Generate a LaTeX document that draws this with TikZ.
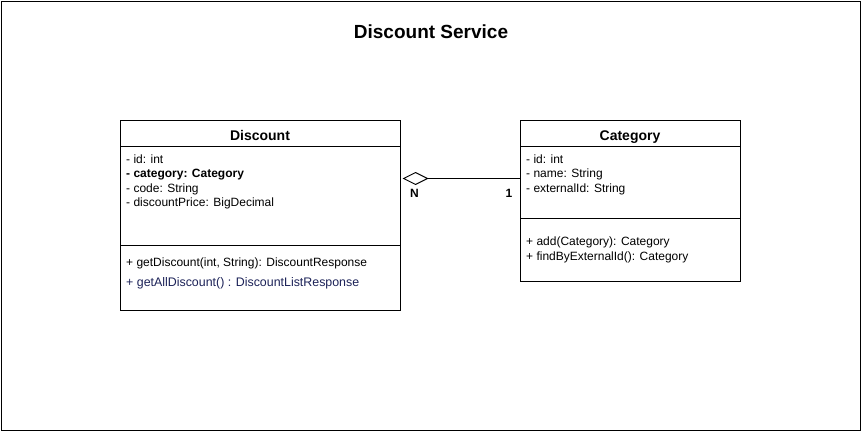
\documentclass[tikz,border=0pt]{standalone}
\usepackage{fontspec}
\setmainfont{Liberation Sans}
\usetikzlibrary{arrows.meta}
\definecolor{methblue}{RGB}{28,34,88}
\begin{document}
\begin{tikzpicture}[x=1pt,y=-1pt,
  classbox/.style={draw=black,line width=1pt,fill=white,inner sep=0pt},
  hdr/.style={font=\fontsize{14}{16}\selectfont\bfseries,anchor=base,inner sep=0pt},
  member/.style={font=\fontsize{12}{14}\selectfont,anchor=base west,inner sep=0pt},
  mult/.style={font=\fontsize{12}{14}\selectfont\bfseries,anchor=base,inner sep=0pt},
  sep/.style={line width=1pt}]
\useasboundingbox (0,0) rectangle (861,431);
\node[draw=black,line width=1pt,minimum width=859pt,minimum height=429pt,anchor=north west,inner sep=0pt] (frame) at (0.5,0.5) {};
\node[font=\fontsize{19}{22}\selectfont\bfseries,anchor=base,inner sep=0pt] (title) at (431,38) {Discount Service};

% Discount class
\node[classbox,minimum width=280pt,minimum height=190pt,anchor=north west] (disc) at (120,120) {};
\draw[sep] (disc.west |- 0,146.5) -- (disc.east |- 0,146.5);
\draw[sep] (disc.west |- 0,245) -- (disc.east |- 0,245);
\node[hdr] (dname) at (260,140) {Discount};
\node[member] (d1) at (126,163) {- id: int};
\node[member] (d2) at (126,177.5) {\bfseries - category: Category};
\node[member] (d3) at (126,192) {- code: String};
\node[member] (d4) at (126,206.5) {- discountPrice: BigDecimal};
\node[member] (d5) at (126,266) {+ getDiscount(int, String): DiscountResponse};
\node[member,text=methblue,font=\fontsize{12.4}{14}\selectfont] (d6) at (126,286.5) {+ getAllDiscount() : DiscountListResponse};

% Category class
\node[classbox,minimum width=220pt,minimum height=161pt,anchor=north west] (cat) at (520,120) {};
\draw[sep] (cat.west |- 0,146.5) -- (cat.east |- 0,146.5);
\draw[sep] (cat.west |- 0,218.5) -- (cat.east |- 0,218.5);
\node[hdr] (cname) at (630,140) {Category};
\node[member] (c1) at (526,163) {- id: int};
\node[member] (c2) at (526,177.5) {- name: String};
\node[member] (c3) at (526,192) {- externalId: String};
\node[member] (c4) at (526,245.5) {+ add(Category): Category};
\node[member] (c5) at (526,260) {+ findByExternalId(): Category};

% aggregation
\coordinate (dtip) at (402.5,178.5);
\draw[line width=1pt,{Diamond[open,length=26pt,width=13pt,line width=1pt]}-] (dtip) -- (cat.west |- dtip);
\node[mult] (n) at (414.5,197) {N};
\node[mult] (one) at (509,197) {1};
\end{tikzpicture}
\end{document}
